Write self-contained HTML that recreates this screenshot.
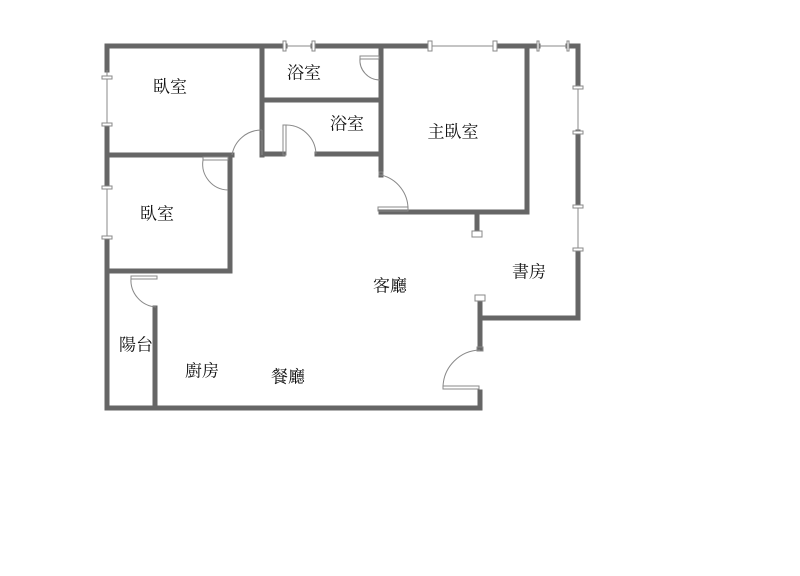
<!DOCTYPE html>
<html><head><meta charset="utf-8"><style>body{margin:0;background:#fff}svg{display:block}text{font-family:"Liberation Serif","Noto Serif CJK SC",serif;font-size:17px;fill:#111;text-anchor:middle;dominant-baseline:central}</style></head><body>
<svg width="800" height="576" viewBox="0 0 800 576">
<g stroke="#666" stroke-width="5" fill="none" stroke-linecap="square">
<path d="M107 46H285M313 46H430M495 46H538M568 46H578V85M578 132V205M578 250V318H480V297"/>
<path d="M480 348V297M480 392V408H107V238M107 187V125M107 70V46"/>
<path d="M107 155H232M262 155V46M264 100H378M264 154H283M317 154H380M381 46V175M381 212H527V46M477 212V232"/>
<path d="M230 155V271H107M155 308V408"/>
</g>
<g stroke="#888" stroke-width="1" fill="#fff">
<line x1="285" y1="46" x2="313" y2="46"/><rect x="283" y="41" width="3" height="10"/><rect x="312" y="41" width="3" height="10"/>
<line x1="430" y1="46" x2="495" y2="46"/><rect x="428" y="41" width="4" height="10"/><rect x="493" y="41" width="4" height="10"/>
<line x1="538" y1="46" x2="568" y2="46"/><rect x="537" y="41" width="2" height="10"/><rect x="567" y="41" width="2" height="10"/>
<line x1="107" y1="70" x2="107" y2="125"/><rect x="102" y="76" width="10" height="3"/><rect x="102" y="123" width="10" height="3"/>
<line x1="107" y1="187" x2="107" y2="238"/><rect x="102" y="186" width="10" height="3"/><rect x="102" y="236" width="10" height="3"/>
<line x1="578" y1="85" x2="578" y2="132"/><rect x="573" y="86" width="10" height="3"/><rect x="573" y="131" width="10" height="3"/>
<line x1="578" y1="205" x2="578" y2="250"/><rect x="573" y="205" width="10" height="3"/><rect x="573" y="248" width="10" height="3"/>
<rect x="472" y="231" width="10" height="6"/><rect x="475" y="295" width="10" height="6"/>
</g>
<g stroke="#888" stroke-width="1" fill="none">
<path d="M262 130A30 30 0 0 0 232 155"/><line x1="262" y1="130" x2="262" y2="155"/>
<path d="M285 125A30 30 0 0 1 316 154"/><rect x="283" y="125" width="3" height="30"/>
<path d="M203 160A26 26 0 0 0 228 190"/><rect x="203" y="157" width="25" height="3"/>
<path d="M360 58A20 20 0 0 0 380 80"/><rect x="360" y="56" width="19" height="3"/>
<path d="M381 175A35 35 0 0 1 408 210"/><rect x="379" y="172" width="4" height="3"/><rect x="378" y="207" width="30" height="4"/>
<path d="M131 278A27 27 0 0 0 156 307"/><rect x="131" y="276" width="26" height="3"/>
<path d="M480 350A38 38 0 0 0 443 387"/><rect x="443" y="386" width="36" height="3"/><rect x="477" y="347" width="6" height="4"/>
</g>
<text x="170" y="87">臥室</text><text x="304" y="73">浴室</text><text x="347" y="124">浴室</text>
<text x="453" y="132">主臥室</text><text x="157" y="214">臥室</text><text x="390" y="286">客廳</text>
<text x="529" y="272">書房</text><text x="136" y="345">陽台</text><text x="202" y="371">廚房</text><text x="288" y="377">餐廳</text>
</svg></body></html>
